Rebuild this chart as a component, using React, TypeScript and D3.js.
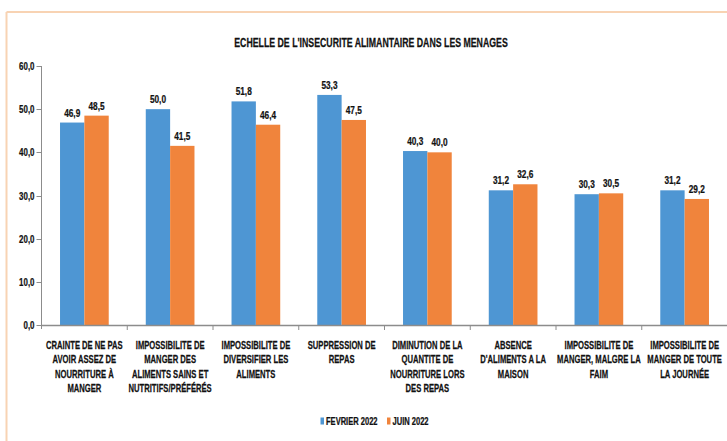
import React from "react";
import * as d3 from "d3";

const TITLE = "ECHELLE DE L'INSECURITE ALIMANTAIRE DANS LES MENAGES";
const categories = [
  "CRAINTE DE NE PAS|AVOIR ASSEZ DE|NOURRITURE À|MANGER",
  "IMPOSSIBILITE DE|MANGER DES|ALIMENTS SAINS ET|NUTRITIFS/PRÉFÉRÉS",
  "IMPOSSIBILITE DE|DIVERSIFIER LES|ALIMENTS",
  "SUPPRESSION DE|REPAS",
  "DIMINUTION DE LA|QUANTITE DE|NOURRITURE LORS|DES REPAS",
  "ABSENCE|D'ALIMENTS A LA|MAISON",
  "IMPOSSIBILITE DE|MANGER, MALGRE LA|FAIM",
  "IMPOSSIBILITE DE|MANGER DE TOUTE|LA JOURNÉE",
];
const seriesNames = ["FEVRIER 2022", "JUIN 2022"];
const fevrier = [46.9, 50.0, 51.8, 53.3, 40.3, 31.2, 30.3, 31.2];
const juin = [48.5, 41.5, 46.4, 47.5, 40.0, 32.6, 30.5, 29.2];
const yTicks = [0, 10, 20, 30, 40, 50, 60];
const colors = ["#4E96D3", "#F0843C"];

const W = 727;
const H = 441;
const FONT = "'Liberation Sans', Arial, sans-serif";

function NText({ x, y, size, anchor = "middle", sx = 0.72, children }: { x: number; y: number; size: number; anchor?: string; sx?: number; children: any }) {
  return (
    <g transform={`translate(${x},${y}) scale(${sx},1)`}>
      <text
        x={0}
        y={0}
        textAnchor={anchor}
        fontSize={size}
        fontWeight="bold"
        fill="#111"
        stroke="#111"
        strokeWidth={0.25}
        fontFamily={FONT}
      >
        {children}
      </text>
    </g>
  );
}

export default function App() {
  const x0 = 41.5;
  const x1 = 727.5;
  const yTop = 66;
  const yBot = 325;
  const x = d3.scaleBand<number>().domain(d3.range(categories.length)).range([x0, x1]).padding(0);
  const bw = x.bandwidth();
  const xs = d3.scaleBand<number>().domain([0, 1]).range([bw * 0.216, bw * 0.784]).padding(0);
  const y = d3.scaleLinear().domain([0, 60]).range([yBot, yTop]);
  const series = [fevrier, juin];
  const fmt = (v: number) => v.toFixed(1).replace(".", ",");
  const axisColor = "#8c8c8c";

  return (
    <svg width={W} height={H} style={{ position: "absolute", left: 0, top: 0, background: "#fff" }} fontFamily={FONT}>
      <rect x={0} y={0} width={W} height={H} fill="#fff" />
      {/* frame */}
      <line x1={6.5} y1={12} x2={W} y2={12} stroke="#F8D3B3" strokeWidth={2} />
      <line x1={6.5} y1={12} x2={6.5} y2={H} stroke="#F8D3B3" strokeWidth={2} />
      <NText x={371} y={47} size={12} sx={0.73}>{TITLE}</NText>
      {/* bars */}
      {series.map((vals, s) =>
        vals.map((v, i) => (
          <rect
            key={`b${s}-${i}`}
            x={(x(i) as number) + (xs(s) as number)}
            y={y(v)}
            width={xs.bandwidth()}
            height={yBot - y(v)}
            fill={colors[s]}
          />
        ))
      )}
      {/* value labels */}
      {series.map((vals, s) =>
        vals.map((v, i) => (
          <NText
            key={`l${s}-${i}`}
            x={(x(i) as number) + (xs(s) as number) + xs.bandwidth() / 2}
            y={y(v) - 6}
            size={11.5}
          >
            {fmt(v)}
          </NText>
        ))
      )}
      {/* y axis */}
      <line x1={x0} y1={yTop} x2={x0} y2={yBot + 4} stroke={axisColor} strokeWidth={1} />
      {yTicks.map((t) => (
        <g key={`yt${t}`}>
          <line x1={x0 - 5} x2={x0} y1={Math.round(y(t)) + 0.5} y2={Math.round(y(t)) + 0.5} stroke={axisColor} />
          <NText x={34.5} y={y(t) + 4} size={11} anchor="end">
            {fmt(t)}
          </NText>
        </g>
      ))}
      {/* x axis */}
      <line x1={x0} y1={yBot + 0.5} x2={x1} y2={yBot + 0.5} stroke={axisColor} strokeWidth={1.5} />
      {categories.map((_, i) => (
        <line
          key={`xt${i}`}
          x1={(x(i) as number) + bw}
          x2={(x(i) as number) + bw}
          y1={yBot}
          y2={yBot + 5}
          stroke={axisColor}
        />
      ))}
      {categories.map((c, i) =>
        c.split("|").map((line, k) => (
          <NText key={`c${i}-${k}`} x={(x(i) as number) + bw / 2} y={349 + k * 14.3} size={11.5} sx={0.665}>
            {line}
          </NText>
        ))
      )}
      {/* legend */}
      {seriesNames.map((n, s) => {
        const lx = [320.5, 387][s];
        return (
          <g key={`lg${s}`}>
            <rect x={lx} y={417.5} width={3.5} height={7} fill={colors[s]} />
            <NText x={lx + 5.5} y={425} size={10.5} anchor="start">
              {n}
            </NText>
          </g>
        );
      })}
    </svg>
  );
}
